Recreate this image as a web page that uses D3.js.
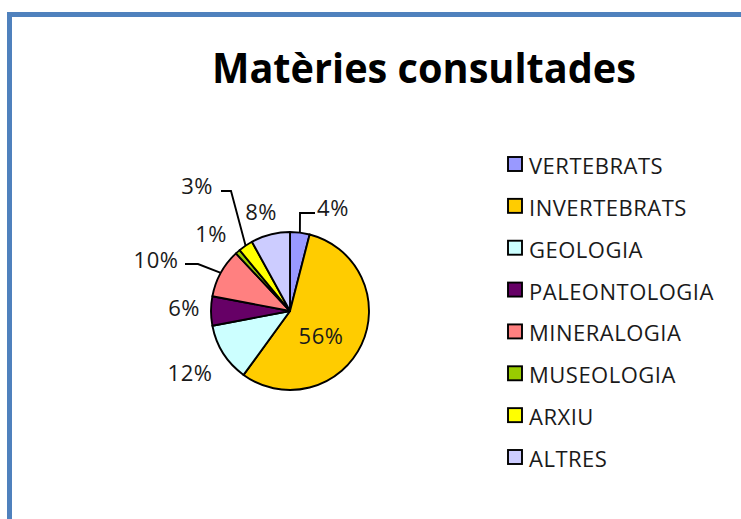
<!DOCTYPE html>
<html>
<head>
<meta charset="utf-8">
<script src="https://cdn.jsdelivr.net/npm/d3@7"></script>
<style>
  html, body { margin: 0; padding: 0; background: #fff; }
  svg { display: block; }
  text { font-family: "Open Sans", "DejaVu Sans", sans-serif; fill: #1a1a1a; }
</style>
</head>
<body>
<svg id="chart" width="741" height="519"></svg>
<script>
// ---- data ----
const categories = ["VERTEBRATS", "INVERTEBRATS", "GEOLOGIA", "PALEONTOLOGIA", "MINERALOGIA", "MUSEOLOGIA", "ARXIU", "ALTRES"];
const values = [4, 56, 12, 6, 10, 1, 3, 8];
const colors = ["#9999FF", "#FFCC00", "#CCFFFF", "#660066", "#FF8080", "#99CC00", "#FFFF00", "#CCCCFF"];
const title = "Matèries consultades";

// ---- layout ----
const W = 741, H = 519;
const cx = 290, cy = 311, R = 79;
// label centres relative to pie centre
const labelOffsets = [[43, -104], [31, 24], [-100, 61], [-106, -4], [-134, -52], [-79, -78], [-93, -126], [-29, -100]];
// leader elbow/end points relative to pie centre (null = no leader)
const leaders = [
  [[10, -98], [25, -98]],
  null, null, null,
  [[-92, -47], [-105, -47]],
  null,
  [[-59, -120], [-69, -120]],
  null
];

const svg = d3.select("#chart");

// frame
svg.append("rect")
  .attr("x", 9.5).attr("y", 14.5)
  .attr("width", W + 20).attr("height", H + 20)
  .attr("fill", "#fff")
  .attr("stroke", "#4F81BD").attr("stroke-width", 5);

// title
svg.append("text")
  .attr("x", 424).attr("y", 83)
  .attr("text-anchor", "middle")
  .attr("textLength", 424).attr("lengthAdjust", "spacingAndGlyphs")
  .style("font-size", "42px").style("font-weight", "bold").style("fill", "#000")
  .text(title);

const data = categories.map((c, i) => ({ name: c, value: values[i], color: colors[i], i }));
const total = d3.sum(values);
const pie = d3.pie().value(d => d.value).sort(null).startAngle(0).endAngle(2 * Math.PI);
const arcs = pie(data);
const arc = d3.arc().innerRadius(0).outerRadius(R);
const edgeArc = d3.arc().innerRadius(R).outerRadius(R);

const g = svg.append("g").attr("transform", `translate(${cx},${cy})`);

g.selectAll("path.slice")
  .data(arcs)
  .join("path")
  .attr("class", "slice")
  .attr("d", arc)
  .attr("fill", d => d.data.color)
  .attr("stroke", "#000")
  .attr("stroke-width", 1.9)
  .attr("stroke-linejoin", "round");

// leader lines
g.selectAll("polyline.leader")
  .data(arcs.filter(d => leaders[d.data.i]))
  .join("polyline")
  .attr("class", "leader")
  .attr("points", d => {
    const p0 = edgeArc.centroid(d);
    const pts = [p0].concat(leaders[d.data.i]);
    return pts.map(p => p.join(",")).join(" ");
  })
  .attr("fill", "none")
  .attr("stroke", "#000")
  .attr("stroke-width", 1.9);

// labels
g.selectAll("text.lbl")
  .data(arcs)
  .join("text")
  .attr("class", "lbl")
  .attr("x", d => labelOffsets[d.data.i][0])
  .attr("y", d => labelOffsets[d.data.i][1])
  .attr("text-anchor", "middle")
  .attr("dominant-baseline", "central")
  .style("font-size", "22px")
  .style("letter-spacing", "0.5px")
  .text(d => Math.round(d.value / total * 100) + "%");

// legend
const legendY = d3.scalePoint().domain(categories).range([164, 457]);
const lg = svg.append("g");
const rows = lg.selectAll("g.row").data(data).join("g")
  .attr("class", "row")
  .attr("transform", d => `translate(508,${legendY(d.name)})`);
rows.append("rect")
  .attr("x", 0).attr("y", -7)
  .attr("width", 14).attr("height", 14)
  .attr("fill", d => d.color)
  .attr("stroke", "#000").attr("stroke-width", 1.9);
rows.append("text")
  .attr("x", 21).attr("y", 1)
  .attr("dominant-baseline", "central")
  .style("font-size", "22px")
  .style("letter-spacing", "0.5px")
  .text(d => d.name);
</script>
</body>
</html>
